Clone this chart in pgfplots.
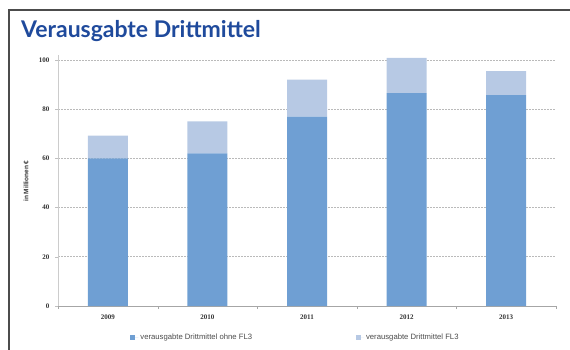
\documentclass[border=0pt]{standalone}
\usepackage{pgfplots}
\pgfplotsset{compat=1.18}
\usepackage{fontspec}
\setmainfont{Liberation Sans}
\newfontfamily\titlefont{Lato}
\newfontfamily\tickfont{Liberation Serif}
\definecolor{barA}{HTML}{6F9FD3}
\definecolor{barB}{HTML}{B7C9E4}
\definecolor{titleblue}{HTML}{1F4A9C}
\begin{document}
\begin{tikzpicture}[x=1pt,y=1pt]
\useasboundingbox (0,0) rectangle (570,349);
\draw[line width=1.5pt, color=black!70] (9,-2) -- (9,339) -- (572,339);
\node[anchor=base west, inner sep=0, font=\titlefont\bfseries\fontsize{23}{25}\selectfont, text=titleblue] at (21,311) {Verausgabte Drittmittel};
\begin{axis}[at={(58pt,43pt)}, anchor=south west, scale only axis, width=498pt, height=251pt,
 ymin=0, ymax=102, xmin=-0.5, xmax=4.5, clip=false,
 ybar stacked, bar width=40pt,
 axis x line=bottom, axis y line=left, axis line style={-},
 x axis line style={color=black!35, line width=0.8pt}, y axis line style={color=black!20, line width=1pt},
 xtick={0,...,4}, xticklabels={2009,2010,2011,2012,2013},
 major x tick style={draw=none},
 minor xtick={-0.5,0.5,...,4.5},
 minor x tick style={color=black!35},
 minor tick length=3pt,
 tick align=outside,
 ytick={0,20,...,100},
 major tick length=3pt,
 y tick style={color=black!25},
 ymajorgrids,
 grid style={color=black!27, dash pattern=on 1.5pt off 1.5pt, line width=0.6pt},
 ticklabel style={font=\tickfont\bfseries\fontsize{7}{8}\selectfont, text=black!80},
 /pgf/number format/assume math mode=true,
 xticklabel style={yshift=-2pt},
 yticklabel style={xshift=-2pt},
 ylabel={in Millionen €},
 every axis y label/.style={at={(axis description cs:-0.064,0.498)}, rotate=90, anchor=center, font=\bfseries\fontsize{6.5}{7}\selectfont, text=black!80},
 legend style={at={(axis description cs:0.145,-0.124)}, anchor=west, draw=none, inner sep=0pt, font=\fontsize{7.7}{8.5}\selectfont, text=black!70, legend columns=2, /tikz/every even column/.append style={column sep=102pt}},
 legend image code/.code={\fill[#1] (0pt,-2.5pt) rectangle (5pt,2.5pt); \path (0pt,0pt) -- (8pt,0pt);},
]
\addplot[fill=barA, draw=none] coordinates {(0,60) (1,62) (2,77) (3,86.5) (4,85.7)};
\addplot[fill=barB, draw=none] coordinates {(0,9.2) (1,13) (2,15) (3,14.3) (4,9.7)};
\legend{verausgabte Drittmittel ohne FL3, verausgabte Drittmittel FL3}
\end{axis}
\end{tikzpicture}
\end{document}
